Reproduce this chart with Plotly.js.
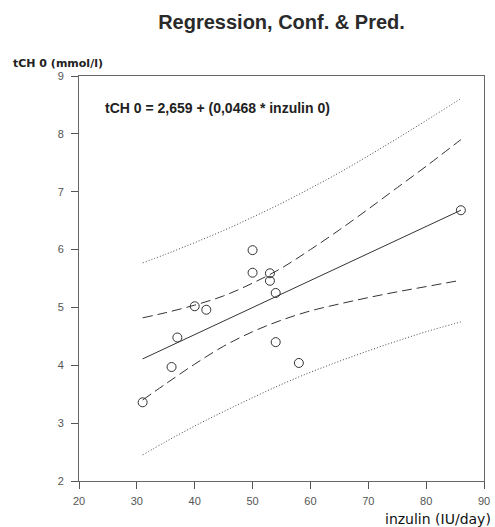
<!DOCTYPE html>
<html>
<head>
<meta charset="utf-8">
<script src="https://cdn.plot.ly/plotly-3.0.1.min.js"></script>
<style>html,body{margin:0;padding:0;background:#fff;}#chart{width:495px;height:527px;}</style>
</head>
<body>
<div id="chart"></div>
<script>
// Observed points
const inzulin = [31, 36, 37, 40, 42, 50, 50, 53, 53, 54, 54, 58, 86];
const tch = [3.36, 3.97, 4.48, 5.02, 4.96, 5.99, 5.60, 5.59, 5.46, 5.25, 4.40, 4.04, 6.68];

// Regression line (read at ends)
const regX = [31, 86];
const regY = [4.11, 6.68];

// Bands
const bandX     = [31,   35,   40,   45,   50,   55,   60,   65,   70,   75,   80,   86];
const confUpper = [4.82, 4.91, 5.04, 5.20, 5.42, 5.68, 6.00, 6.34, 6.70, 7.07, 7.44, 7.90];
const confLower = [3.40, 3.68, 4.02, 4.33, 4.58, 4.78, 4.94, 5.06, 5.17, 5.27, 5.36, 5.47];
const predUpper = [5.77, 5.92, 6.12, 6.33, 6.56, 6.80, 7.06, 7.33, 7.62, 7.92, 8.23, 8.61];
const predLower = [2.45, 2.68, 2.95, 3.20, 3.44, 3.67, 3.88, 4.07, 4.25, 4.42, 4.58, 4.75];

const xTicks = [20, 30, 40, 50, 60, 70, 80, 90];
const yTicks = [2, 3, 4, 5, 6, 7, 8, 9];

const titleText = 'Regression, Conf. &amp; Pred.';
const yTitle = 'tCH 0 (mmol/l)';
const xTitle = 'inzulin (IU/day)';
const equation = 'tCH 0 = 2,659 + (0,0468 * inzulin 0)';

const lineCol = '#333';
const traces = [
  {x: bandX, y: predUpper, mode: 'lines', line: {color: '#444', width: 1, dash: '1px,2px', shape: 'spline'}, hoverinfo: 'skip'},
  {x: bandX, y: predLower, mode: 'lines', line: {color: '#444', width: 1, dash: '1px,2px', shape: 'spline'}, hoverinfo: 'skip'},
  {x: bandX, y: confUpper, mode: 'lines', line: {color: lineCol, width: 1, dash: '10px,5px', shape: 'spline'}, hoverinfo: 'skip'},
  {x: bandX, y: confLower, mode: 'lines', line: {color: lineCol, width: 1, dash: '10px,5px', shape: 'spline'}, hoverinfo: 'skip'},
  {x: regX, y: regY, mode: 'lines', line: {color: lineCol, width: 1}},
  {x: inzulin, y: tch, mode: 'markers', marker: {symbol: 'circle-open', size: 9, color: lineCol, line: {width: 1, color: lineCol}}}
];

const axisCommon = {
  showgrid: false, zeroline: false, showline: true, mirror: true,
  linecolor: '#666', linewidth: 1,
  ticks: 'outside', ticklen: 7, tickcolor: '#555', tickwidth: 1,
  tickfont: {family: 'Liberation Sans, Arial, sans-serif', size: 11, color: '#555'}
};

const layout = {
  width: 495, height: 527,
  margin: {l: 79, r: 11, t: 76, b: 46},
  paper_bgcolor: '#fff', plot_bgcolor: '#fff',
  showlegend: false,
  title: {text: titleText, x: 0.5, xref: 'paper', xanchor: 'center', y: 1 - 22/527, yref: 'container', yanchor: 'middle',
          font: {family: 'Liberation Sans, Arial, sans-serif', size: 20, color: '#2a2a2a', weight: 'bold'}},
  xaxis: Object.assign({}, axisCommon, {range: [20, 90], tickvals: xTicks, ticktext: xTicks.map(String), ticklabelstandoff: 3}),
  yaxis: Object.assign({}, axisCommon, {range: [2, 9], tickvals: yTicks, ticktext: yTicks.map(String), ticklabelstandoff: 5}),
  annotations: [
    {text: '<b>' + yTitle + '</b>', xref: 'paper', yref: 'paper', x: (11 - 79) / 405, y: (481 - 63) / 405, xanchor: 'left', yanchor: 'middle', showarrow: false,
     font: {family: 'DejaVu Sans, sans-serif', size: 11, color: '#222'}},
    {text: xTitle, xref: 'paper', yref: 'paper', x: (493 - 79) / 405, y: (481 - 519) / 405, xanchor: 'right', yanchor: 'middle', showarrow: false,
     font: {family: 'DejaVu Sans, sans-serif', size: 14, color: '#111'}},
    {text: '<b>' + equation + '</b>', xref: 'paper', yref: 'paper', x: (103 - 79) / 405, y: (481 - 108) / 405, xanchor: 'left', yanchor: 'middle', showarrow: false,
     font: {family: 'Liberation Sans, Arial, sans-serif', size: 14, color: '#222'}}
  ]
};

Plotly.newPlot('chart', traces, layout, {displayModeBar: false, staticPlot: true});
</script>
</body>
</html>
